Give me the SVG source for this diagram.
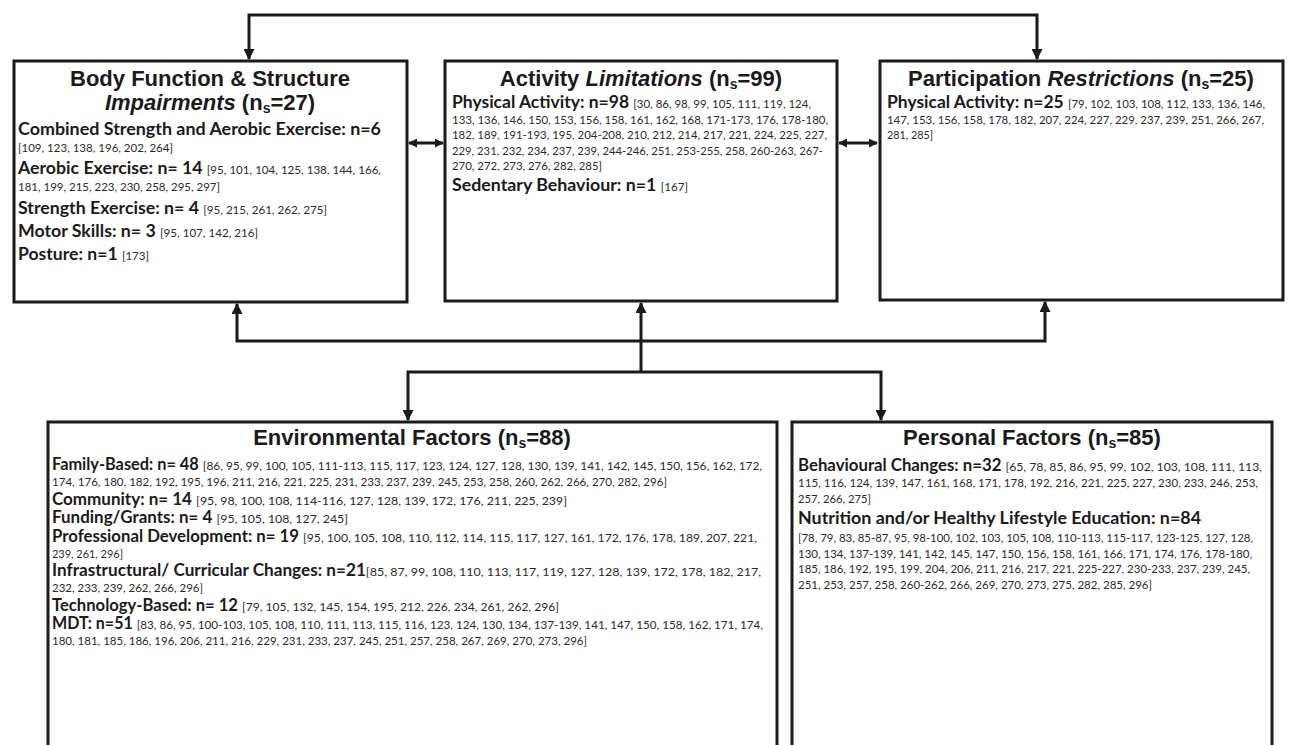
<svg xmlns="http://www.w3.org/2000/svg" width="1289" height="745" viewBox="0 0 1289 745">
<style>
.box{fill:#fff;stroke:#1a1a1a;stroke-width:3}
.t{font-family:"Liberation Sans",Arial,sans-serif;font-weight:bold;font-size:22px;fill:#1a1a1a;text-anchor:middle}
.sub{font-size:14px}
.l{font-family:Lato,"Open Sans",sans-serif;fill:#1a1a1a}
.hb{font-weight:bold;font-size:16.5px}
.rs{font-size:10.8px;fill:#2a2a2a}
.rb{font-size:12px;fill:#2a2a2a}
.con{fill:none;stroke:#1a1a1a;stroke-width:3}
</style>
<defs>
<marker id="ah" viewBox="0 0 10 10" refX="9" refY="5" markerWidth="11" markerHeight="11" markerUnits="userSpaceOnUse" orient="auto-start-reverse">
<path d="M0,0 L10,5 L0,10 z" fill="#1a1a1a"/>
</marker>
<marker id="ahs" viewBox="0 0 10 10" refX="9" refY="5" markerWidth="9" markerHeight="9" markerUnits="userSpaceOnUse" orient="auto-start-reverse">
<path d="M0,0 L10,5 L0,10 z" fill="#1a1a1a"/>
</marker>
</defs>

<g id="connectors">
<path class="con" d="M249,59 V15 H1037 V59" marker-start="url(#ah)" marker-end="url(#ah)"/>
<path class="con" d="M409,143 H443" marker-start="url(#ahs)" marker-end="url(#ahs)"/>
<path class="con" d="M839,143 H877" marker-start="url(#ahs)" marker-end="url(#ahs)"/>
<path class="con" d="M237,304 V341 H1045 V302" marker-start="url(#ah)" marker-end="url(#ah)"/>
<path class="con" d="M641,372 V303" marker-end="url(#ah)"/>
<path class="con" d="M408,420 V372 H881 V420" marker-start="url(#ah)" marker-end="url(#ah)"/>
</g>

<g id="body-function">
<rect class="box" x="14" y="61" width="393" height="241"/>
<text class="t" x="210" y="86">Body Function &amp; Structure</text>
<text class="t" x="210" y="110"><tspan font-style="italic">Impairments</tspan> (n<tspan class="sub" dy="3">s</tspan><tspan dy="-3">=27)</tspan></text>
<text class="l" x="18" y="135" textLength="363" lengthAdjust="spacingAndGlyphs"><tspan class="hb">Combined Strength and Aerobic Exercise: n=6</tspan></text>
<text class="l rs" x="18" y="152" textLength="155" lengthAdjust="spacingAndGlyphs">[109, 123, 138, 196, 202, 264]</text>
<text class="l" x="18" y="174" textLength="363" lengthAdjust="spacingAndGlyphs"><tspan class="hb">Aerobic Exercise: n= 14 </tspan><tspan class="rs">[95, 101, 104, 125, 138, 144, 166,</tspan></text>
<text class="l rs" x="18" y="191" textLength="202" lengthAdjust="spacingAndGlyphs">181, 199, 215, 223, 230, 258, 295, 297]</text>
<text class="l" x="18" y="214" textLength="309" lengthAdjust="spacingAndGlyphs"><tspan class="hb">Strength Exercise: n= 4 </tspan><tspan class="rs">[95, 215, 261, 262, 275]</tspan></text>
<text class="l" x="18" y="237" textLength="240" lengthAdjust="spacingAndGlyphs"><tspan class="hb">Motor Skills: n= 3 </tspan><tspan class="rs">[95, 107, 142, 216]</tspan></text>
<text class="l" x="18" y="260" textLength="131" lengthAdjust="spacingAndGlyphs"><tspan class="hb">Posture: n=1 </tspan><tspan class="rs">[173]</tspan></text>
</g>

<g id="activity">
<rect class="box" x="445" y="61" width="392" height="240"/>
<text class="t" x="641" y="86">Activity <tspan font-style="italic">Limitations</tspan> (n<tspan class="sub" dy="3">s</tspan><tspan dy="-3">=99)</tspan></text>
<text class="l" x="452" y="108" textLength="359" lengthAdjust="spacingAndGlyphs"><tspan class="hb">Physical Activity: n=98 </tspan><tspan class="rs">[30, 86, 98, 99, 105, 111, 119, 124,</tspan></text>
<text class="l rs" x="452" y="124" textLength="376" lengthAdjust="spacingAndGlyphs">133, 136, 146, 150, 153, 156, 158, 161, 162, 168, 171-173, 176, 178-180,</text>
<text class="l rs" x="452" y="139" textLength="375" lengthAdjust="spacingAndGlyphs">182, 189, 191-193, 195, 204-208, 210, 212, 214, 217, 221, 224, 225, 227,</text>
<text class="l rs" x="452" y="155" textLength="371" lengthAdjust="spacingAndGlyphs">229, 231, 232, 234, 237, 239, 244-246, 251, 253-255, 258, 260-263, 267-</text>
<text class="l rs" x="452" y="170" textLength="150" lengthAdjust="spacingAndGlyphs">270, 272, 273, 276, 282, 285]</text>
<text class="l" x="452" y="191" textLength="236" lengthAdjust="spacingAndGlyphs"><tspan class="hb">Sedentary Behaviour: n=1 </tspan><tspan class="rs">[167]</tspan></text>
</g>

<g id="participation">
<rect class="box" x="880" y="61" width="403" height="239"/>
<text class="t" x="1081" y="86">Participation <tspan font-style="italic">Restrictions</tspan> (n<tspan class="sub" dy="3">s</tspan><tspan dy="-3">=25)</tspan></text>
<text class="l" x="887" y="108" textLength="378" lengthAdjust="spacingAndGlyphs"><tspan class="hb">Physical Activity: n=25 </tspan><tspan class="rs">[79, 102, 103, 108, 112, 133, 136, 146,</tspan></text>
<text class="l rs" x="887" y="124" textLength="377" lengthAdjust="spacingAndGlyphs">147, 153, 156, 158, 178, 182, 207, 224, 227, 229, 237, 239, 251, 266, 267,</text>
<text class="l rs" x="887" y="139" textLength="46" lengthAdjust="spacingAndGlyphs">281, 285]</text>
</g>

<g id="environmental">
<rect class="box" x="48" y="422" width="729" height="335"/>
<text class="t" x="412" y="445">Environmental Factors (n<tspan class="sub" dy="3">s</tspan><tspan dy="-3">=88)</tspan></text>
<text class="l" x="52" y="470" textLength="710" lengthAdjust="spacingAndGlyphs"><tspan class="hb">Family-Based: n= 48 </tspan><tspan class="rb">[86, 95, 99, 100, 105, 111-113, 115, 117, 123, 124, 127, 128, 130, 139, 141, 142, 145, 150, 156, 162, 172,</tspan></text>
<text class="l rb" x="52" y="486" textLength="615" lengthAdjust="spacingAndGlyphs">174, 176, 180, 182, 192, 195, 196, 211, 216, 221, 225, 231, 233, 237, 239, 245, 253, 258, 260, 262, 266, 270, 282, 296]</text>
<text class="l" x="52" y="504.5" textLength="515" lengthAdjust="spacingAndGlyphs"><tspan class="hb">Community: n= 14 </tspan><tspan class="rb">[95, 98, 100, 108, 114-116, 127, 128, 139, 172, 176, 211, 225, 239]</tspan></text>
<text class="l" x="52" y="523" textLength="296" lengthAdjust="spacingAndGlyphs"><tspan class="hb">Funding/Grants: n= 4 </tspan><tspan class="rb">[95, 105, 108, 127, 245]</tspan></text>
<text class="l" x="52" y="541.5" textLength="705" lengthAdjust="spacingAndGlyphs"><tspan class="hb">Professional Development: n= 19 </tspan><tspan class="rb">[95, 100, 105, 108, 110, 112, 114, 115, 117, 127, 161, 172, 176, 178, 189, 207, 221,</tspan></text>
<text class="l rb" x="52" y="557.5" textLength="71" lengthAdjust="spacingAndGlyphs">239, 261, 296]</text>
<text class="l" x="52" y="576" textLength="709" lengthAdjust="spacingAndGlyphs"><tspan class="hb">Infrastructural/ Curricular Changes: n=21</tspan><tspan class="rb">[85, 87, 99, 108, 110, 113, 117, 119, 127, 128, 139, 172, 178, 182, 217,</tspan></text>
<text class="l rb" x="52" y="592" textLength="151" lengthAdjust="spacingAndGlyphs">232, 233, 239, 262, 266, 296]</text>
<text class="l" x="52" y="610.5" textLength="507" lengthAdjust="spacingAndGlyphs"><tspan class="hb">Technology-Based: n= 12 </tspan><tspan class="rb">[79, 105, 132, 145, 154, 195, 212, 226, 234, 261, 262, 296]</tspan></text>
<text class="l" x="52" y="629" textLength="711" lengthAdjust="spacingAndGlyphs"><tspan class="hb">MDT: n=51 </tspan><tspan class="rb">[83, 86, 95, 100-103, 105, 108, 110, 111, 113, 115, 116, 123, 124, 130, 134, 137-139, 141, 147, 150, 158, 162, 171, 174,</tspan></text>
<text class="l rb" x="52" y="645" textLength="535" lengthAdjust="spacingAndGlyphs">180, 181, 185, 186, 196, 206, 211, 216, 229, 231, 233, 237, 245, 251, 257, 258, 267, 269, 270, 273, 296]</text>
</g>

<g id="personal">
<rect class="box" x="792" y="422" width="480" height="335"/>
<text class="t" x="1032" y="445">Personal Factors (n<tspan class="sub" dy="3">s</tspan><tspan dy="-3">=85)</tspan></text>
<text class="l" x="798" y="471" textLength="464" lengthAdjust="spacingAndGlyphs"><tspan class="hb">Behavioural Changes: n=32 </tspan><tspan class="rb">[65, 78, 85, 86, 95, 99, 102, 103, 108, 111, 113,</tspan></text>
<text class="l rb" x="798" y="487" textLength="460" lengthAdjust="spacingAndGlyphs">115, 116, 124, 139, 147, 161, 168, 171, 178, 192, 216, 221, 225, 227, 230, 233, 246, 253,</text>
<text class="l rb" x="798" y="503" textLength="73" lengthAdjust="spacingAndGlyphs">257, 266, 275]</text>
<text class="l hb" x="798" y="524" textLength="403" lengthAdjust="spacingAndGlyphs">Nutrition and/or Healthy Lifestyle Education: n=84</text>
<text class="l rb" x="798" y="542" textLength="455" lengthAdjust="spacingAndGlyphs">[78, 79, 83, 85-87, 95, 98-100, 102, 103, 105, 108, 110-113, 115-117, 123-125, 127, 128,</text>
<text class="l rb" x="798" y="558" textLength="454" lengthAdjust="spacingAndGlyphs">130, 134, 137-139, 141, 142, 145, 147, 150, 156, 158, 161, 166, 171, 174, 176, 178-180,</text>
<text class="l rb" x="798" y="573" textLength="452" lengthAdjust="spacingAndGlyphs">185, 186, 192, 195, 199, 204, 206, 211, 216, 217, 221, 225-227, 230-233, 237, 239, 245,</text>
<text class="l rb" x="798" y="589" textLength="354" lengthAdjust="spacingAndGlyphs">251, 253, 257, 258, 260-262, 266, 269, 270, 273, 275, 282, 285, 296]</text>
</g>
</svg>
